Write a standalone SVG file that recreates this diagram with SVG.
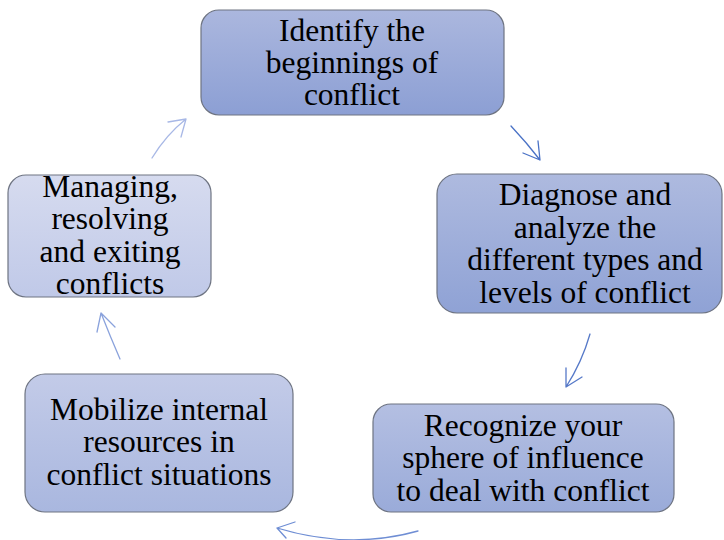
<svg xmlns="http://www.w3.org/2000/svg" width="724" height="540" viewBox="0 0 724 540">
<defs>
<linearGradient id="g1" x1="0" y1="0" x2="0" y2="1"><stop offset="0" stop-color="#abb7de"/><stop offset="1" stop-color="#8c9fd4"/></linearGradient>
<linearGradient id="g2" x1="0" y1="0" x2="0" y2="1"><stop offset="0" stop-color="#aebadf"/><stop offset="1" stop-color="#8fa2d5"/></linearGradient>
<linearGradient id="g3" x1="0" y1="0" x2="0" y2="1"><stop offset="0" stop-color="#b4bfe2"/><stop offset="1" stop-color="#9aabd9"/></linearGradient>
<linearGradient id="g4" x1="0" y1="0" x2="0" y2="1"><stop offset="0" stop-color="#c3cbe8"/><stop offset="1" stop-color="#a9b7df"/></linearGradient>
<linearGradient id="g5" x1="0" y1="0" x2="0" y2="1"><stop offset="0" stop-color="#d6dbef"/><stop offset="1" stop-color="#c0c9e8"/></linearGradient>
</defs>
<style>
.box{stroke:#6e7482;stroke-width:1.2}
.t{font-family:'Liberation Serif','Times New Roman',Tinos,'Nimbus Roman','DejaVu Serif',serif;font-size:31.5px;fill:#000;text-anchor:middle}
.c{fill:none;stroke-width:1.3;stroke-linecap:round;stroke-linejoin:round}
</style>
<g id="node1">
<rect class="box" x="201" y="10" width="303" height="105" rx="18" fill="url(#g1)"/>
<text class="t" x="352" y="41">Identify the</text>
<text class="t" x="352" y="73">beginnings of</text>
<text class="t" x="352" y="105">conflict</text>
</g>
<g id="node2">
<rect class="box" x="437" y="174" width="285" height="139" rx="20" fill="url(#g2)"/>
<text class="t" x="585" y="205">Diagnose and</text>
<text class="t" x="585" y="238">analyze the</text>
<text class="t" x="585" y="270">different types and</text>
<text class="t" x="585" y="303">levels of conflict</text>
</g>
<g id="node3">
<rect class="box" x="373" y="404" width="301" height="108" rx="18" fill="url(#g3)"/>
<text class="t" x="523" y="436">Recognize your</text>
<text class="t" x="523" y="468">sphere of influence</text>
<text class="t" x="523" y="501">to deal with conflict</text>
</g>
<g id="node4">
<rect class="box" x="25" y="374" width="268" height="138" rx="20" fill="url(#g4)"/>
<text class="t" x="159" y="420">Mobilize internal</text>
<text class="t" x="159" y="452">resources in</text>
<text class="t" x="159" y="485">conflict situations</text>
</g>
<g id="node5">
<rect class="box" x="8" y="175" width="203" height="122" rx="18" fill="url(#g5)"/>
<text class="t" x="110" y="197">Managing,</text>
<text class="t" x="110" y="229">resolving</text>
<text class="t" x="110" y="262">and exiting</text>
<text class="t" x="110" y="294">conflicts</text>
</g>
<g id="connectors">
<path class="c" stroke="#4a72c6" d="M511 126 Q527 143 540 160 M523 153 L540 160 L538 141"/>
<path class="c" stroke="#5679c8" d="M590 334 Q582 362 566 387 M566 368 L566 387 L582 377"/>
<path class="c" stroke="#6f8ed4" d="M418 531 Q350 550 277 528 M295 522 L277 528 L286 538"/>
<path class="c" stroke="#8aa2dc" d="M120 359 Q110 336 101 313 M97 332 L101 313 L115 327"/>
<path class="c" stroke="#a8b8e6" d="M152 158 Q166 135 186 119 M168 122 L186 119 L181 137"/>
</g>
</svg>
